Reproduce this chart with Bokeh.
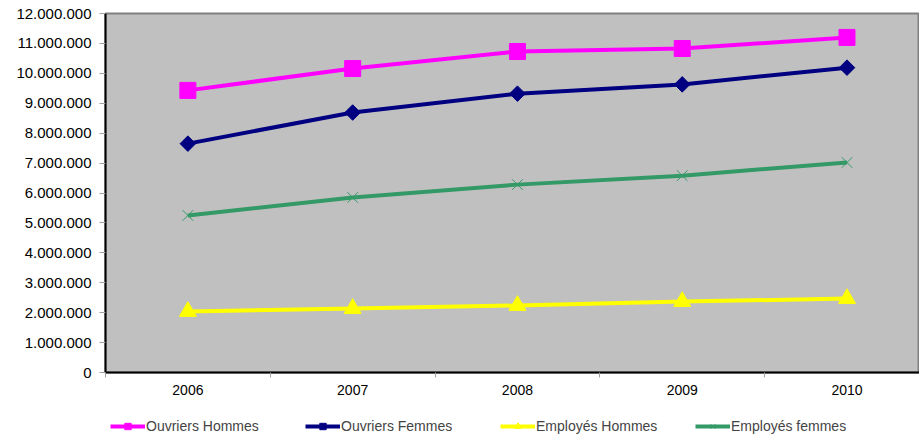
import math
from bokeh.plotting import figure
from bokeh.layouts import column
from bokeh.models import (Range1d, FixedTicker, Legend, LegendItem, ColumnDataSource)
from bokeh.embed import file_html
from bokeh.resources import INLINE

years = [2006, 2007, 2008, 2009, 2010]
year_labels = ["2006", "2007", "2008", "2009", "2010"]
ouvriers_hommes = [9430000, 10160000, 10730000, 10830000, 11200000]
ouvriers_femmes = [7650000, 8690000, 9320000, 9630000, 10190000]
employes_hommes = [2040000, 2140000, 2240000, 2370000, 2470000]
employes_femmes = [5250000, 5850000, 6280000, 6580000, 7020000]
y_ticks = [i * 1000000 for i in range(13)]
y_labels = ["0", "1.000.000", "2.000.000", "3.000.000", "4.000.000", "5.000.000",
            "6.000.000", "7.000.000", "8.000.000", "9.000.000", "10.000.000",
            "11.000.000", "12.000.000"]

FONT = "Liberation Sans"

p = figure(frame_width=814, frame_height=359, output_backend="svg", toolbar_location=None,
           x_range=Range1d(2005.5, 2010.44), y_range=Range1d(0, 12000000),
           min_border_left=105, min_border_top=13, min_border_right=0, min_border_bottom=0)
p.background_fill_color = "#C0C0C0"
p.border_fill_color = "white"
p.outline_line_color = "#808080"
p.outline_line_width = 2
p.xgrid.visible = False
p.ygrid.visible = False

# x axis
p.xaxis.ticker = FixedTicker(ticks=years, minor_ticks=[2005.5, 2006.5, 2007.5, 2008.5, 2009.5, 2010.5])
p.xaxis.major_label_overrides = {y: l for y, l in zip(years, year_labels)}
p.xaxis.major_tick_out = 0
p.xaxis.major_tick_in = 0
p.xaxis.minor_tick_out = 5
p.xaxis.minor_tick_in = 0
p.xaxis.minor_tick_line_color = "#A0A0A0"
p.xaxis.axis_line_color = "black"
p.xaxis.axis_line_width = 2
p.xaxis.major_label_standoff = 7
p.xaxis.major_label_text_font = FONT
p.xaxis.major_label_text_font_size = "14px"
p.xaxis.major_label_text_color = "black"

# y axis
p.yaxis.ticker = FixedTicker(ticks=y_ticks)
p.yaxis.major_label_overrides = {t: l for t, l in zip(y_ticks, y_labels)}
p.yaxis.minor_tick_line_color = None
p.yaxis.major_tick_out = 6
p.yaxis.major_tick_in = 0
p.yaxis.major_tick_line_color = "#A0A0A0"
p.yaxis.axis_line_color = "black"
p.yaxis.axis_line_width = 2
p.yaxis.major_label_standoff = 8
p.yaxis.major_label_text_font = FONT
p.yaxis.major_label_text_font_size = "15px"
p.yaxis.major_label_text_color = "black"

series = [
    ("Ouvriers Hommes", ouvriers_hommes, "#FF00FF", "square", 16, 0.0),
    ("Ouvriers Femmes", ouvriers_femmes, "#000080", "square", 11, math.pi / 4),
    ("Employés Hommes", employes_hommes, "#FFFF00", "triangle", 17, 0.0),
    ("Employés femmes", employes_femmes, "#339966", "x", 15, 0.0),
]

# separate strip holding the legend (below the chart); its ranges keep the
# series themselves out of view so only the legend entries show
lf = figure(width=919, height=39, output_backend="svg", toolbar_location=None,
            x_range=Range1d(0, 1), y_range=Range1d(0, 1),
            min_border=0, min_border_left=0, min_border_right=0,
            min_border_top=0, min_border_bottom=0)
lf.axis.visible = False
lf.grid.visible = False
lf.outline_line_color = None
lf.background_fill_color = "white"
lf.border_fill_color = "white"


def draw(fig, src, color, marker, size, angle):
    r1 = fig.line("x", "y", source=src, line_color=color, line_width=4)
    if marker == "x":
        r2 = fig.scatter("x", "y", source=src, marker=marker, size=size, line_color=color,
                         line_width=1)
    else:
        r2 = fig.scatter("x", "y", source=src, marker=marker, size=size, angle=angle,
                         fill_color=color, line_color=color, line_width=1)
    return r1, r2


items = []
for name, vals, color, marker, size, angle in series:
    src = ColumnDataSource(dict(x=years, y=vals))
    draw(p, src, color, marker, size, angle)
    l1, l2 = draw(lf, src, color, marker, size, angle)
    items.append(LegendItem(label=name, renderers=[l1, l2]))

legend = Legend(items=items, orientation="horizontal", location=(5, 2),
                label_text_font=FONT, label_text_font_size="14px",
                glyph_width=35, glyph_height=16, label_standoff=1, label_width=150,
                spacing=9, padding=0, margin=0, border_line_color=None,
                background_fill_alpha=0, label_height=14)
lf.add_layout(legend, "center")

layout = column(p, lf, spacing=0)
open("out.html", "w").write(file_html(layout, INLINE))
